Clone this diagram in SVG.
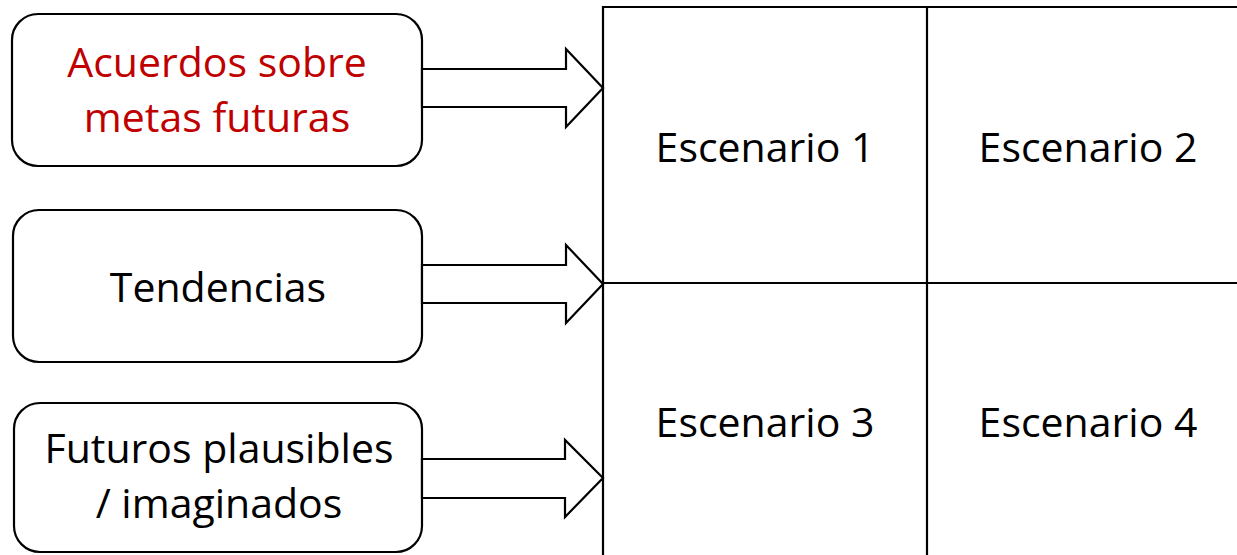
<svg xmlns="http://www.w3.org/2000/svg" width="1237" height="555" viewBox="0 0 1237 555">
<style>
.box{fill:#fff;stroke:#000;stroke-width:2.2}
.arrow{fill:#fff;stroke:#000;stroke-width:2.2;stroke-linejoin:miter}
.grid{stroke:#000;stroke-width:2.2;fill:none}
.t{font-family:"Open Sans","Noto Sans","Liberation Sans",sans-serif;font-size:41px;fill:#000;text-anchor:middle}
.red{fill:#C00000}
</style>
<rect width="1237" height="555" fill="#fff"/>
<g id="grid">
<line class="grid" x1="603" y1="7" x2="1237" y2="7"/>
<line class="grid" x1="603" y1="6" x2="603" y2="555"/>
<line class="grid" x1="927" y1="7" x2="927" y2="555"/>
<line class="grid" x1="603" y1="283" x2="1237" y2="283"/>
</g>
<g id="escenario1"><text class="t" x="765" y="162">Escenario 1</text></g>
<g id="escenario2"><text class="t" x="1088" y="162">Escenario 2</text></g>
<g id="escenario3"><text class="t" x="765" y="437">Escenario 3</text></g>
<g id="escenario4"><text class="t" x="1088" y="437">Escenario 4</text></g>
<g id="acuerdos">
<rect class="box" x="12" y="14" width="410" height="152" rx="26" ry="26"/>
<text class="t red" x="217" y="77">Acuerdos sobre</text>
<text class="t red" x="217" y="132">metas futuras</text>
</g>
<g id="tendencias">
<rect class="box" x="13" y="210" width="409" height="152" rx="26" ry="26"/>
<text class="t" x="218" y="302">Tendencias</text>
</g>
<g id="futuros">
<rect class="box" x="14" y="403" width="408" height="149" rx="26" ry="26"/>
<text class="t" x="219" y="463">Futuros plausibles</text>
<text class="t" x="219" y="518">/ imaginados</text>
</g>
<g id="connectors">
<polygon class="arrow" points="422,69 566,69 566,49 603,88 566,127 566,107 422,107"/>
<polygon class="arrow" points="422,265 566,265 566,245 603,284 566,323 566,303 422,303"/>
<polygon class="arrow" points="422,459 565,459 565,440 603,478 565,517 565,498 422,498"/>
</g>
</svg>
